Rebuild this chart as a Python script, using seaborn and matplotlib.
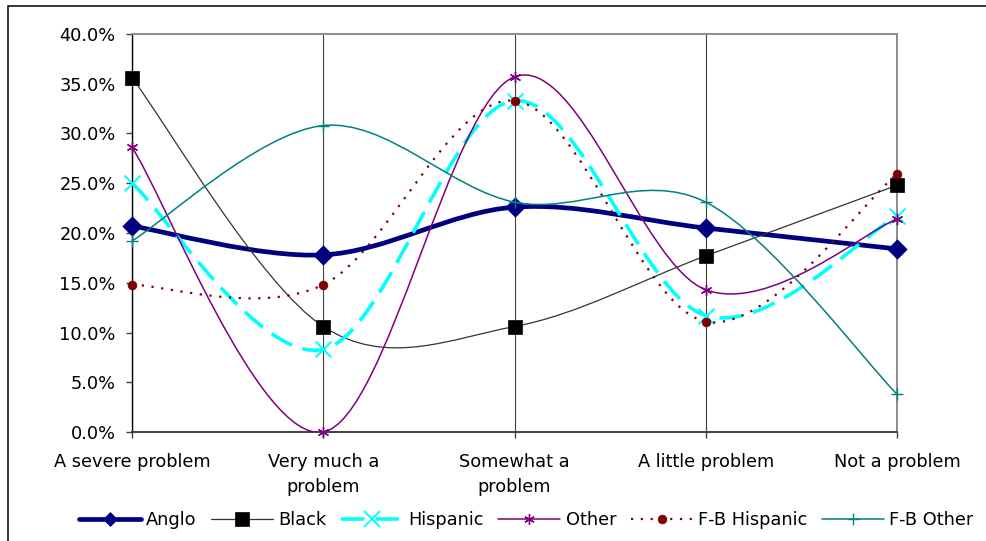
import numpy as np
import pandas as pd
import matplotlib
matplotlib.use("Agg")
import matplotlib.pyplot as plt
import seaborn as sns
from matplotlib.path import Path
from matplotlib.patches import PathPatch, Rectangle
from matplotlib.lines import Line2D
from matplotlib.ticker import FuncFormatter, MultipleLocator

# Survey responses: share of each group choosing each answer (%)
categories = ["A severe problem", "Very much a\nproblem", "Somewhat a\nproblem",
              "A little problem", "Not a problem"]
series_names = ["Anglo", "Black", "Hispanic", "Other", "F-B Hispanic", "F-B Other"]
anglo = [20.7, 17.8, 22.6, 20.5, 18.4]
black = [35.6, 10.6, 10.6, 17.7, 24.8]
hispanic = [25.0, 8.3, 33.3, 11.7, 21.7]
other = [28.6, 0.0, 35.7, 14.3, 21.4]
fb_hispanic = [14.8, 14.8, 33.3, 11.1, 25.9]
fb_other = [19.2, 30.8, 23.1, 23.1, 3.8]
y_ticks = [0, 5, 10, 15, 20, 25, 30, 35, 40]

values = [anglo, black, hispanic, other, fb_hispanic, fb_other]

sns.set_style("white")
plt.rcParams["font.family"] = ["DejaVu Sans"]
plt.rcParams["text.color"] = "black"
plt.rcParams["xtick.labelcolor"] = "black"
plt.rcParams["ytick.labelcolor"] = "black"
FS = 12.8

# line / marker styles per series
styles = {
    "Anglo":        dict(color="#000080", lw=3.4, ls="-",  marker="D", s=88,  fc="#000080", ec="#000080", mlw=1.0, lms=7.0),
    "Black":        dict(color="#333333", lw=0.9, ls="-",  marker="s", s=95,  fc="#000000", ec="#000000", mlw=0.5, lms=9.5),
    "Hispanic":     dict(color="#00FFFF", lw=2.6, ls=(0, (6.5, 3.0)), marker="x", s=130, fc="#00FFFF", ec="#00FFFF", mlw=1.4, lms=11),
    "Other":        dict(color="#800080", lw=1.1, ls="-",  marker=(6, 2, 0), s=55, fc="#800080", ec="#800080", mlw=1.0, lms=7.5),
    "F-B Hispanic": dict(color="#800000", lw=1.6, ls=(0, (1, 3.4)), marker="o", s=40, fc="#800000", ec="#800000", mlw=0.5, lms=6.3),
    "F-B Other":    dict(color="#008080", lw=1.1, ls="-",  marker="+", s=70,  fc="#008080", ec="#008080", mlw=1.0, lms=8.5),
}


def smooth_path(xs, ys):
    """Cubic Bezier path through the points (Catmull-Rom style smoothing)."""
    pts = np.column_stack([xs, ys]).astype(float)
    n = len(pts)
    verts = [pts[0]]
    codes = [Path.MOVETO]
    for i in range(n - 1):
        p0 = pts[max(i - 1, 0)]
        p1 = pts[i]
        p2 = pts[i + 1]
        p3 = pts[min(i + 2, n - 1)]
        verts += [p1 + (p2 - p0) / 6.0, p2 - (p3 - p1) / 6.0, p2]
        codes += [Path.CURVE4] * 3
    return Path(verts, codes)


W, H = 986, 541
fig = plt.figure(figsize=(W / 100, H / 100), dpi=100)
fig.patch.set_facecolor("white")
ax = fig.add_axes([132 / W, (H - 432) / H, (897 - 132) / W, (432 - 34) / H])

x = np.arange(len(categories))
df = pd.DataFrame({name: vals for name, vals in zip(series_names, values)})
df["pos"] = x

handles = []
for i, name in enumerate(series_names):
    st = styles[name]
    patch = PathPatch(smooth_path(df["pos"], df[name]), facecolor="none",
                      edgecolor=st["color"], lw=st["lw"], linestyle=st["ls"],
                      zorder=3 + 2 * i, capstyle="butt", joinstyle="round")
    ax.add_patch(patch)
    kw = dict(marker=st["marker"], s=st["s"], color=st["fc"], linewidth=st["mlw"],
              zorder=4 + 2 * i, legend=False, clip_on=False)
    if st["marker"] in ("D", "s", "o"):
        kw["edgecolor"] = st["ec"]
    sns.scatterplot(data=df, x="pos", y=name, ax=ax, **kw)
    handles.append(Line2D([], [], color=st["color"], lw=st["lw"], linestyle=st["ls"],
                          marker=st["marker"], markersize=st["lms"],
                          markerfacecolor=st["fc"], markeredgecolor=st["ec"],
                          markeredgewidth=st["mlw"] if st["marker"] not in ("D", "s", "o") else 0.5))

ax.set_xlim(0, len(categories) - 1)
ax.set_ylim(y_ticks[0], y_ticks[-1])
ax.set_xlabel("")
ax.set_ylabel("")

# vertical category gridlines
ax.set_xticks(x)
ax.set_xticklabels(categories, fontsize=FS, linespacing=1.55, color="black")
ax.xaxis.grid(True, color="#404040", lw=0.8)
ax.yaxis.grid(False)
ax.set_axisbelow(True)

ax.yaxis.set_major_locator(MultipleLocator(5))
ax.yaxis.set_major_formatter(FuncFormatter(lambda v, _: f"{v:.1f}%"))

ax.tick_params(axis="y", which="major", left=True, length=4.3, width=1.0,
               color="#404040", pad=7.5, labelsize=FS, direction="out",
               labelcolor="black")
ax.tick_params(axis="x", which="major", bottom=True, length=4.3, width=1.0,
               color="#404040", pad=10.5, labelsize=FS, direction="out",
               labelcolor="black")

for side in ("top", "right"):
    ax.spines[side].set_color("#8c8c8c")
    ax.spines[side].set_linewidth(1.4)
ax.spines["left"].set_color("black")
ax.spines["left"].set_linewidth(1.0)
ax.spines["bottom"].set_color("#404040")
ax.spines["bottom"].set_linewidth(1.4)
for sp in ax.spines.values():
    sp.set_zorder(1.5)

leg = fig.legend(handles=handles, labels=series_names, loc="center",
                 bbox_to_anchor=(526 / W, (H - 520) / H), ncol=6, frameon=False,
                 fontsize=FS, handlelength=3.5, handletextpad=0.3,
                 columnspacing=0.8, borderaxespad=0, numpoints=1)
for t in leg.get_texts():
    t.set_color("black")

# chart area border
fig.patches.append(Rectangle((8 / W, -0.1), 1.2, (H - 6) / H + 0.1,
                             transform=fig.transFigure, fill=False,
                             edgecolor="black", lw=1.1, zorder=0))

fig.savefig("out.png", dpi=100, facecolor="white")
